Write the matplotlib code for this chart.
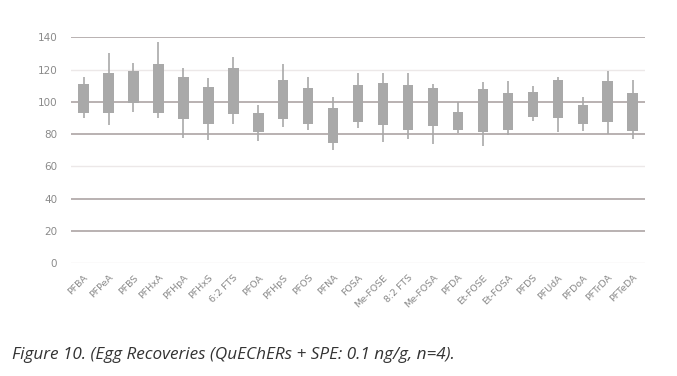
import numpy as np
import matplotlib.pyplot as plt
import matplotlib.transforms as mtransforms

# Kategoriar og verdiar (lese av figuren)
compounds = ['PFBA', 'PFPeA', 'PFBS', 'PFHxA', 'PFHpA', 'PFHxS', '6:2 FTS', 'PFOA',
             'PFHpS', 'PFOS', 'PFNA', 'FOSA', 'Me-FOSE', '8:2 FTS', 'Me-FOSA', 'PFDA',
             'Et-FOSE', 'Et-FOSA', 'PFDS', 'PFUdA', 'PFDoA', 'PFTrDA', 'PFTeDA']
whisker_hi = [115.6, 130.0, 123.8, 137.2, 120.8, 114.9, 128.0, 98.0, 123.4, 115.2, 103.2,
              117.6, 118.0, 118.0, 111.0, 100.0, 112.5, 113.0, 109.8, 115.6, 103.2, 119.3, 113.5]
box_hi = [111.0, 118.0, 118.9, 123.6, 115.6, 109.2, 120.8, 92.9, 113.5, 108.4, 96.4,
          110.4, 111.4, 110.4, 108.4, 93.9, 107.9, 105.6, 106.2, 113.5, 97.8, 112.7, 105.3]
box_lo = [93.3, 93.3, 99.4, 93.3, 89.2, 86.5, 92.3, 81.3, 89.6, 86.3, 74.3,
          87.7, 85.4, 82.4, 85.0, 82.4, 81.5, 82.4, 90.8, 90.2, 86.3, 87.5, 82.1]
whisker_lo = [89.8, 85.6, 93.9, 89.8, 77.4, 76.4, 86.1, 75.7, 84.6, 82.5, 70.2,
              84.0, 75.3, 77.0, 73.7, 80.5, 72.6, 79.4, 88.3, 81.3, 82.1, 80.1, 76.8]
yticks = [0, 20, 40, 60, 80, 100, 120, 140]

x = np.arange(len(compounds))
grey = '#a9a9a9'

fig = plt.figure(figsize=(6.77, 3.76), dpi=100)
ax = fig.add_axes([0.105, 0.2997, 0.848, 0.6011])

# Rutenett: nokre linjer mørkare enn andre, som i originalen
for v in yticks:
    if v in (120, 60, 0):
        ax.axhline(v, color='#ece8e8', lw=1.0, zorder=0)
    else:
        ax.axhline(v, color='#b3abab', lw=1.3, zorder=0)

ax.vlines(x, whisker_lo, whisker_hi, color=grey, lw=1.2, zorder=2)
ax.bar(x, np.array(box_hi) - np.array(box_lo), bottom=box_lo, width=0.42,
       color=grey, zorder=3)

ax.set_xlim(-0.5, len(compounds) - 0.5)
ax.set_ylim(0, 140)
ax.set_yticks(yticks)
ax.set_xticks(x)
ax.set_xticklabels(compounds, rotation=45, ha='right', rotation_mode='anchor',
                   fontsize=6.8, color='#8a8a8a')
# flytt etikettane litt til venstre
shift = mtransforms.ScaledTranslation(-4/72, 0, fig.dpi_scale_trans)
for lab in ax.get_xticklabels():
    lab.set_transform(lab.get_transform() + shift)
ax.tick_params(axis='y', labelsize=7.5, labelcolor='#8a8a8a', length=0, pad=10)
ax.tick_params(axis='x', length=0, pad=7)
for s in ax.spines.values():
    s.set_visible(False)

fig.text(0.017, 0.045, 'Figure 10. (Egg Recoveries (QuEChERs + SPE: 0.1 ng/g, n=4).',
         fontsize=12.3, style='italic', family='Open Sans', color='#333333')

fig.savefig('out.png', dpi=100)
